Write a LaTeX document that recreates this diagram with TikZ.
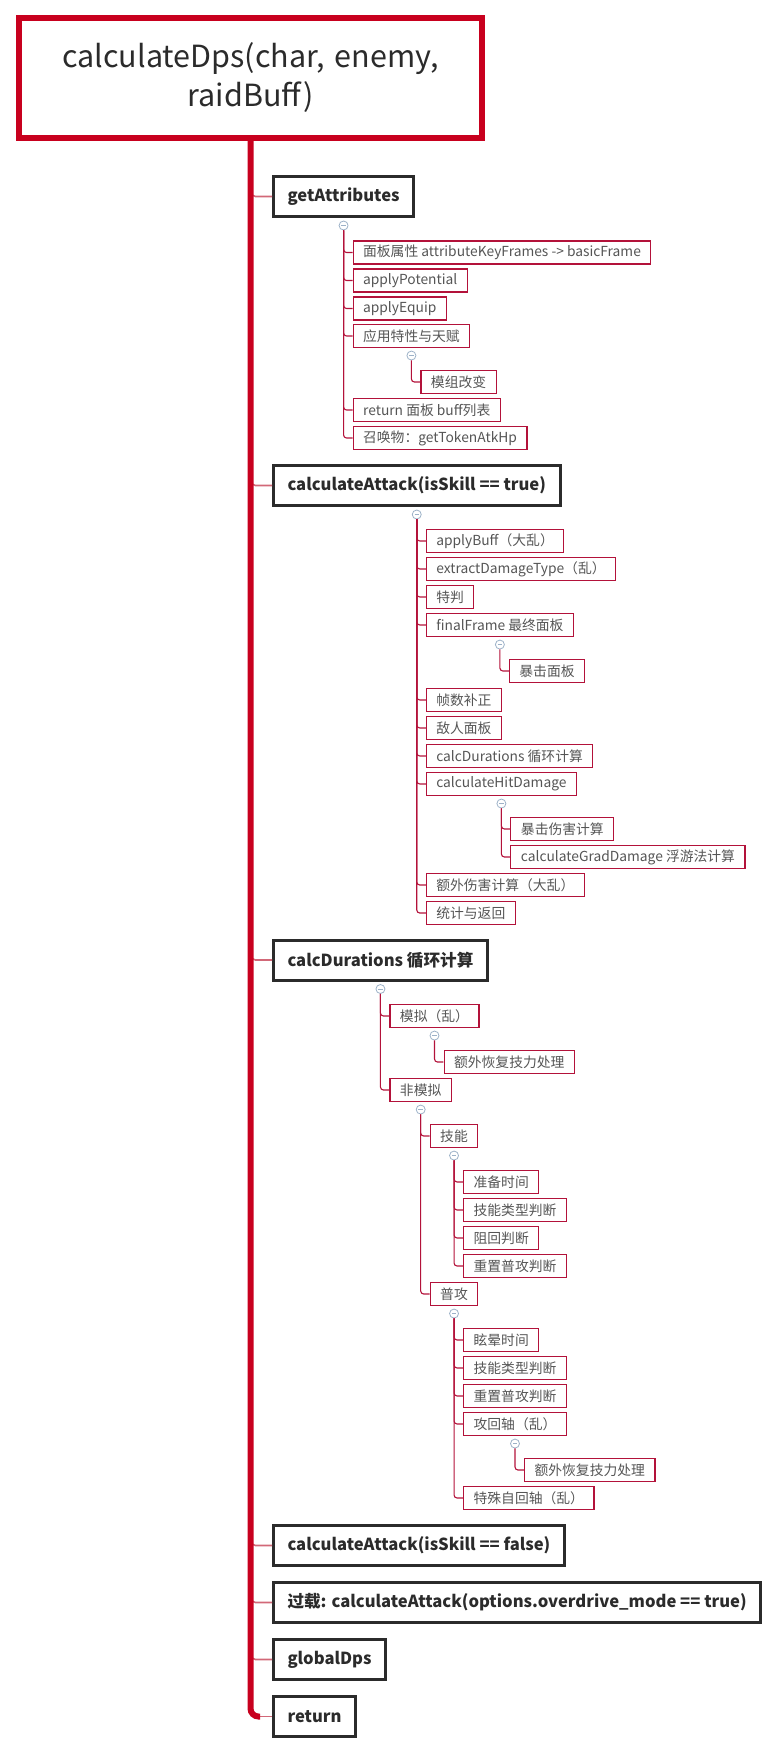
\documentclass[tikz,border=0pt]{standalone}
\usepackage{fontspec}
\setmainfont{Noto Sans CJK SC}
\usetikzlibrary{calc}
\definecolor{trunkred}{HTML}{C8001E}
\definecolor{stempink}{HTML}{D26878}
\definecolor{leafred}{HTML}{B3123A}
\definecolor{boxgray}{HTML}{2B2B2B}
\definecolor{leafgray}{HTML}{555555}
\definecolor{foldblue}{HTML}{9DB2C8}
\tikzset{
rootbox/.style = {draw=trunkred, line width=6pt, minimum width=463pt, minimum height=120pt, text width=440pt, align=center, font=\fontsize{30.5}{39}\selectfont, text=boxgray},
branch/.style = {draw=boxgray, line width=3pt, anchor=west, minimum height=40pt, inner xsep=14pt, font=\fontsize{16.6}{21}\selectfont\bfseries, text=boxgray},
leaf/.style = {draw=leafred, line width=1.1pt, anchor=west, minimum height=23pt, inner xsep=10pt, inner ysep=0pt, font=\fontsize{13.8}{16}\selectfont, text=leafgray},
fold/.style = {circle, draw=foldblue, fill=white, line width=0.8pt, minimum size=9pt, inner sep=0pt,
  path picture={\draw[foldblue, line width=0.8pt] ($(path picture bounding box.center)+(-2.2,0)$) -- ($(path picture bounding box.center)+(2.2,0)$);}},
trunk/.style = {line width=6pt, color=trunkred, rounded corners=8pt},
stem/.style = {line width=1.6pt, color=stempink, rounded corners=5pt},
twig/.style = {line width=1.1pt, color=leafred, rounded corners=3pt}}
\begin{document}
\begin{tikzpicture}[x=1pt,y=-1pt]
\useasboundingbox (0,0) rectangle (764,1755);
%
% root and main steps
\node[rootbox] (root) at (250.5,78) {calculateDps(char, enemy,\\raidBuff)};
\node[branch] (ga) at (272,196.5) {getAttributes};
\node[branch] (ca) at (272,485.5) {calculateAttack(isSkill == true)};
\node[branch] (cd) at (272,960) {calcDurations 循环计算};
\node[branch] (cf) at (272,1545.5) {calculateAttack(isSkill == false)};
\node[branch] (od) at (272,1602.5) {过载: calculateAttack(options.overdrive\_mode == true)};
\node[branch] (gd) at (272,1659.5) {globalDps};
\node[branch] (rt) at (272,1716.5) {return};
%
%----------------------------------------------------------------------------------
% getAttributes
\node[fold] (fga) at ($(ga.south)+(0,7.5)$) {};
\foreach \n/\y/\t in {a1/252.5/{面板属性 attributeKeyFrames -> basicFrame}, a2/280.5/applyPotential, a3/308.5/applyEquip,
  a4/336/应用特性与天赋, a5/410/{return 面板 buff列表}, a6/438/召唤物：getTokenAtkHp}
  \node[leaf] (\n) at ($(fga.center |- 0,\y)+(9,0)$) {\t};
\foreach \n in {a1,a2,a3,a4,a5,a6} \draw[twig] (fga.south) |- (\n.west);
\node[fold] (fa4) at ($(a4.south)+(0,7.5)$) {};
\node[leaf] (a41) at ($(fa4.center |- 0,382)+(9,0)$) {模组改变};
\draw[twig] (fa4.south) |- (a41.west);
%
%----------------------------------------------------------------------------------
% calculateAttack
\node[fold] (fca) at ($(ca.south)+(0,7.5)$) {};
\foreach \n/\y/\t in {b1/541/applyBuff（大乱）, b2/569/extractDamageType（乱）, b3/597/特判, b4/625/finalFrame 最终面板,
  b5/700/帧数补正, b6/728/敌人面板, b7/756/calcDurations 循环计算, b8/784/calculateHitDamage,
  b9/885/额外伤害计算（大乱）, b10/913/统计与返回}
  \node[leaf] (\n) at ($(fca.center |- 0,\y)+(9,0)$) {\t};
\foreach \n in {b1,b2,b3,b4,b5,b6,b7,b8,b9,b10} \draw[twig] (fca.south) |- (\n.west);
\node[fold] (fb4) at ($(b4.south)+(0,7.5)$) {};
\node[leaf] (b41) at ($(fb4.center |- 0,671)+(9,0)$) {暴击面板};
\draw[twig] (fb4.south) |- (b41.west);
\node[fold] (fb8) at ($(b8.south)+(0,7.5)$) {};
\node[leaf] (b81) at ($(fb8.center |- 0,829)+(9,0)$) {暴击伤害计算};
\node[leaf] (b82) at ($(fb8.center |- 0,857)+(9,0)$) {calculateGradDamage 浮游法计算};
\foreach \n in {b81,b82} \draw[twig] (fb8.south) |- (\n.west);
%
%----------------------------------------------------------------------------------
% calcDurations
\node[fold] (fcd) at ($(cd.south)+(0,7.5)$) {};
\node[leaf] (c1) at ($(fcd.center |- 0,1016)+(9,0)$) {模拟（乱）};
\node[leaf] (c2) at ($(fcd.center |- 0,1090)+(9,0)$) {非模拟};
\foreach \n in {c1,c2} \draw[twig] (fcd.south) |- (\n.west);
\node[fold] (fc1) at ($(c1.south)+(0,7.5)$) {};
\node[leaf] (c11) at ($(fc1.center |- 0,1062)+(9,0)$) {额外恢复技力处理};
\draw[twig] (fc1.south) |- (c11.west);
\node[fold] (fc2) at ($(c2.south)+(0,7.5)$) {};
\node[leaf] (s0) at ($(fc2.center |- 0,1136)+(9,0)$) {技能};
\node[leaf] (p0) at ($(fc2.center |- 0,1294)+(9,0)$) {普攻};
\foreach \n in {s0,p0} \draw[twig] (fc2.south) |- (\n.west);
% skill
\node[fold] (fs0) at ($(s0.south)+(0,7.5)$) {};
\foreach \n/\y/\t in {s1/1182/准备时间, s2/1210/技能类型判断, s3/1238/阻回判断, s4/1266/重置普攻判断}
  \node[leaf] (\n) at ($(fs0.center |- 0,\y)+(9,0)$) {\t};
\foreach \n in {s1,s2,s3,s4} \draw[twig] (fs0.south) |- (\n.west);
% normal attack
\node[fold] (fp0) at ($(p0.south)+(0,7.5)$) {};
\foreach \n/\y/\t in {p1/1340/眩晕时间, p2/1368/技能类型判断, p3/1396/重置普攻判断, p4/1424/攻回轴（乱）, p5/1498/特殊自回轴（乱）}
  \node[leaf] (\n) at ($(fp0.center |- 0,\y)+(9,0)$) {\t};
\foreach \n in {p1,p2,p3,p4,p5} \draw[twig] (fp0.south) |- (\n.west);
\node[fold] (fp4) at ($(p4.south)+(0,7.5)$) {};
\node[leaf] (p41) at ($(fp4.center |- 0,1470)+(9,0)$) {额外恢复技力处理};
\draw[twig] (fp4.south) |- (p41.west);
%----------------------------------------------------------------------------------
%
% links from the main line
\foreach \n in {ga,ca,cd,cf,od,gd} \draw[stem] ($(root.south |- \n.west)+(0,-10)$) |- (\n.west);
\draw[stem] ($(rt.west)+(-14,0)$) -- (rt.west);
\draw[trunk] (root.south) |- ($(rt.west)+(-12,0)$);
%
\end{tikzpicture}
\end{document}
